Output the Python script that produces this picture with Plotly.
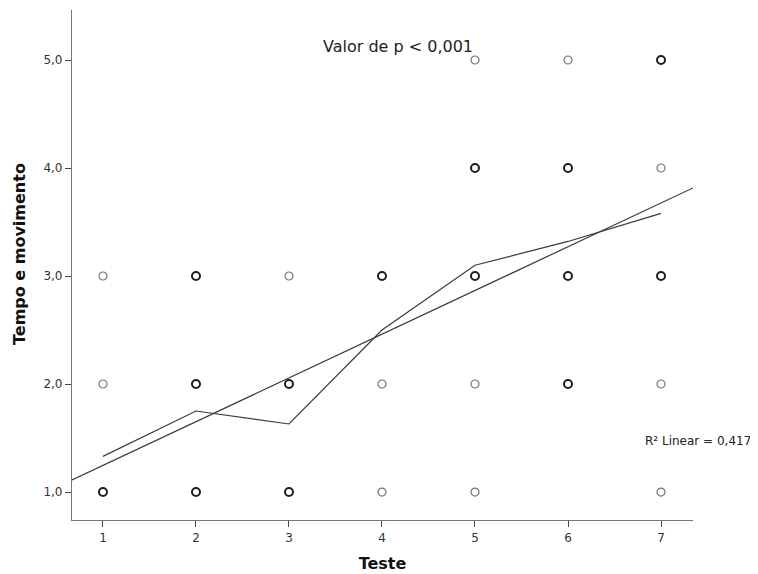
import plotly.graph_objects as go

tests = [1, 1, 1, 2, 2, 2, 3, 3, 3, 4, 4, 4, 5, 5, 5, 5, 5, 6, 6, 6, 6, 7, 7, 7, 7, 7]
scores = [3, 2, 1, 3, 2, 1, 3, 2, 1, 3, 2, 1, 5, 4, 3, 2, 1, 5, 4, 3, 2, 5, 4, 3, 2, 1]
counts = [1, 1, 7, 2, 2, 4, 1, 3, 4, 4, 1, 1, 1, 2, 4, 1, 1, 1, 3, 3, 2, 4, 1, 3, 1, 1]

# Mean per test (interpolation line)
mean_tests = [1, 2, 3, 4, 5, 6, 7]
mean_values = [1.33, 1.75, 1.63, 2.5, 3.1, 3.32, 3.58]

# Linear fit
fit_intercept = 0.841
fit_slope = 0.405
r2_text = "R² Linear = 0,417"
p_text = "Valor de p < 0,001"
x_title = "Teste"
y_title = "Tempo e movimento"

x_range = [0.667, 7.344]
y_range = [0.741, 5.463]

y_ticks = [1, 2, 3, 4, 5]
x_ticks = [1, 2, 3, 4, 5, 6, 7]

FONT = "DejaVu Sans, Liberation Sans, Arial, sans-serif"

fig = go.Figure()

single_x = [t for t, c in zip(tests, counts) if c == 1]
single_y = [s for s, c in zip(scores, counts) if c == 1]
multi_x = [t for t, c in zip(tests, counts) if c > 1]
multi_y = [s for s, c in zip(scores, counts) if c > 1]

fig.add_trace(go.Scatter(
    x=single_x, y=single_y, mode="markers",
    marker=dict(symbol="circle-open", size=8, color="#747474",
                line=dict(width=1.2, color="#747474")),
    hoverinfo="x+y", showlegend=False))
fig.add_trace(go.Scatter(
    x=multi_x, y=multi_y, mode="markers",
    marker=dict(symbol="circle-open", size=8, color="#1e1e1e",
                line=dict(width=2, color="#1e1e1e")),
    hoverinfo="x+y", showlegend=False))

fig.add_trace(go.Scatter(
    x=mean_tests, y=mean_values, mode="lines",
    line=dict(color="#3a3a3a", width=1.2), showlegend=False))

fit_x = x_range
fit_y = [fit_intercept + fit_slope * v for v in fit_x]
fig.add_trace(go.Scatter(
    x=fit_x, y=fit_y, mode="lines",
    line=dict(color="#3a3a3a", width=1.2), showlegend=False))

axis_font = dict(family=FONT, size=12, color="#333")

fig.update_layout(
    width=750, height=566,
    margin=dict(l=64, r=65, t=2, b=54),
    paper_bgcolor="white", plot_bgcolor="white",
    separators=",.",
    font=dict(family=FONT, color="#222"),
    xaxis=dict(range=x_range, tickvals=x_ticks, ticks="outside", ticklen=6,
               tickcolor="#444", showline=True, linecolor="#777", linewidth=1.2,
               showgrid=False, zeroline=False, tickfont=axis_font, automargin=False,
               title=dict(text="<b>" + x_title + "</b>", standoff=14,
                          font=dict(family=FONT, size=16, color="#111"))),
    yaxis=dict(range=y_range, tickvals=y_ticks, tickformat=".1f", ticks="outside",
               ticklen=6, tickcolor="#444", showline=True, linecolor="#777",
               linewidth=1.2, showgrid=False, zeroline=False, tickfont=axis_font,
               automargin=False),
    annotations=[
        dict(text="<b>" + y_title + "</b>", xref="paper", yref="paper",
             x=(20 - 72) / 621, y=(520 - 254) / 510, textangle=-90,
             xanchor="center", yanchor="middle", showarrow=False,
             font=dict(family=FONT, size=16, color="#111")),
        dict(text=p_text, xref="paper", yref="paper", x=(398 - 72) / 621, y=(520 - 47) / 510,
             xanchor="center", yanchor="middle", showarrow=False,
             font=dict(family=FONT, size=16, color="#222")),
        dict(text=r2_text, xref="paper", yref="paper", x=(753 - 72) / 621, y=(520 - 441) / 510,
             xanchor="right", yanchor="middle", showarrow=False,
             font=dict(family=FONT, size=12, color="#222")),
    ],
)

fig.write_html("out.html")
